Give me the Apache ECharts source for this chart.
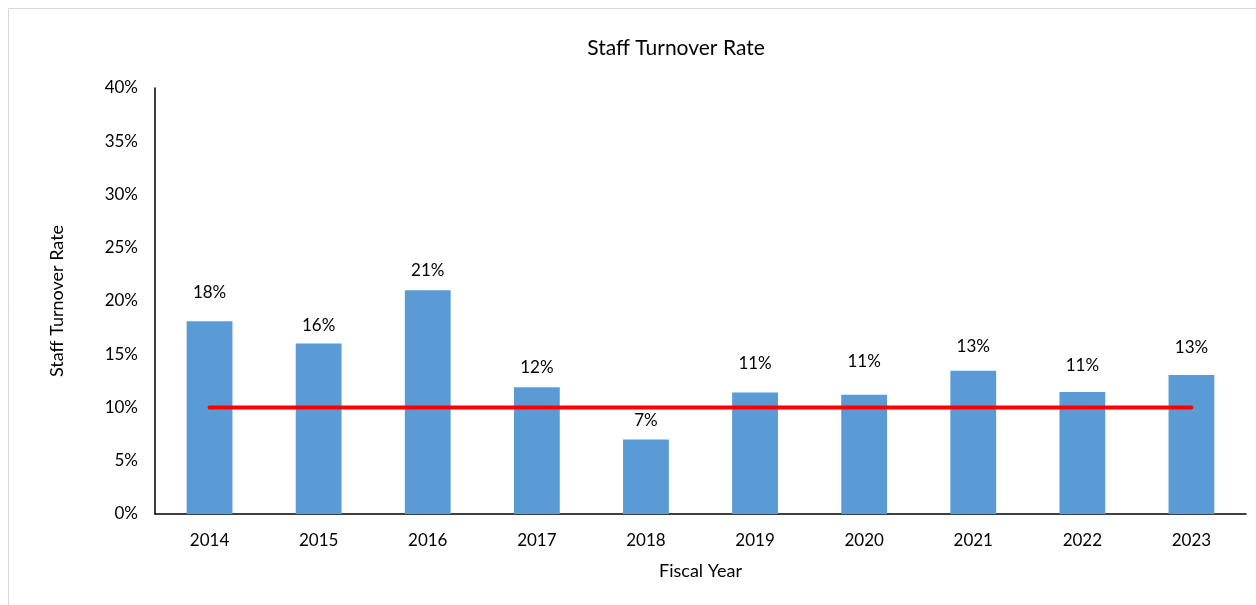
<!DOCTYPE html>
<html>
<head>
<meta charset="utf-8">
<script src="https://cdn.jsdelivr.net/npm/echarts@6/dist/echarts.min.js"></script>
<style>
html,body{margin:0;padding:0;background:#fff;}
#chart{width:1256px;height:605px;}
</style>
</head>
<body>
<div id="chart"></div>
<script>
var years = ['2014','2015','2016','2017','2018','2019','2020','2021','2022','2023'];
var turnoverRate = [18.1, 16.0, 21.0, 11.9, 7.0, 11.4, 11.2, 13.45, 11.45, 13.05];
var targetRate = [10, 10, 10, 10, 10, 10, 10, 10, 10, 10];
var yTicks = [0, 5, 10, 15, 20, 25, 30, 35, 40];

// label gap above each bar, as placed in the original chart (style only)
var labelGap = [20, 10, 11, 11, 10, 21, 25, 16, 18, 19];

var font = 'Lato, "Open Sans", sans-serif';
var barData = turnoverRate.map(function (v, i) {
  return {value: v, label: {distance: labelGap[i]}};
});

var chart = echarts.init(document.getElementById('chart'));
chart.setOption({
  backgroundColor: '#fff',
  animation: false,
  graphic: [{
    type: 'rect',
    shape: {x: 8.5, y: 8.5, width: 1260, height: 620},
    style: {fill: 'none', stroke: '#d9d9d9', lineWidth: 1}
  }],
  title: {
    text: 'Staff Turnover Rate',
    left: 671, top: 33, textAlign: 'center',
    textStyle: {fontFamily: font, fontSize: 21, fontWeight: 'normal', color: '#000'}
  },
  grid: {left: 155, right: 10, top: 88, bottom: 91},
  xAxis: {
    type: 'category',
    data: years,
    name: 'Fiscal Year',
    nameLocation: 'middle',
    nameGap: 48,
    nameTextStyle: {fontFamily: font, fontSize: 18, color: '#000'},
    axisLine: {lineStyle: {color: '#000', width: 1.5}},
    axisTick: {show: false},
    axisLabel: {fontFamily: font, fontSize: 17, color: '#000', margin: 18}
  },
  yAxis: {
    type: 'value',
    min: yTicks[0], max: yTicks[yTicks.length - 1], interval: 5,
    name: 'Staff Turnover Rate',
    nameLocation: 'middle',
    nameGap: 89,
    nameTextStyle: {fontFamily: font, fontSize: 18, color: '#000'},
    axisLine: {show: true, lineStyle: {color: '#000', width: 1.5}},
    axisTick: {show: false},
    splitLine: {show: false},
    axisLabel: {fontFamily: font, fontSize: 17, color: '#000', margin: 17, formatter: function(v){return v + '%';}}
  },
  series: [{
    type: 'bar',
    data: barData,
    barWidth: '42%',
    itemStyle: {color: '#5b9bd5'},
    label: {
      show: true, position: 'top',
      fontFamily: font, fontSize: 17, color: '#000',
      formatter: function(p){return Math.round(p.value) + '%';}
    }
  }, {
    type: 'line',
    data: targetRate,
    symbol: 'none',
    lineStyle: {color: '#ff0000', width: 4, cap: 'round'},
    z: 5
  }]
});
</script>
</body>
</html>
